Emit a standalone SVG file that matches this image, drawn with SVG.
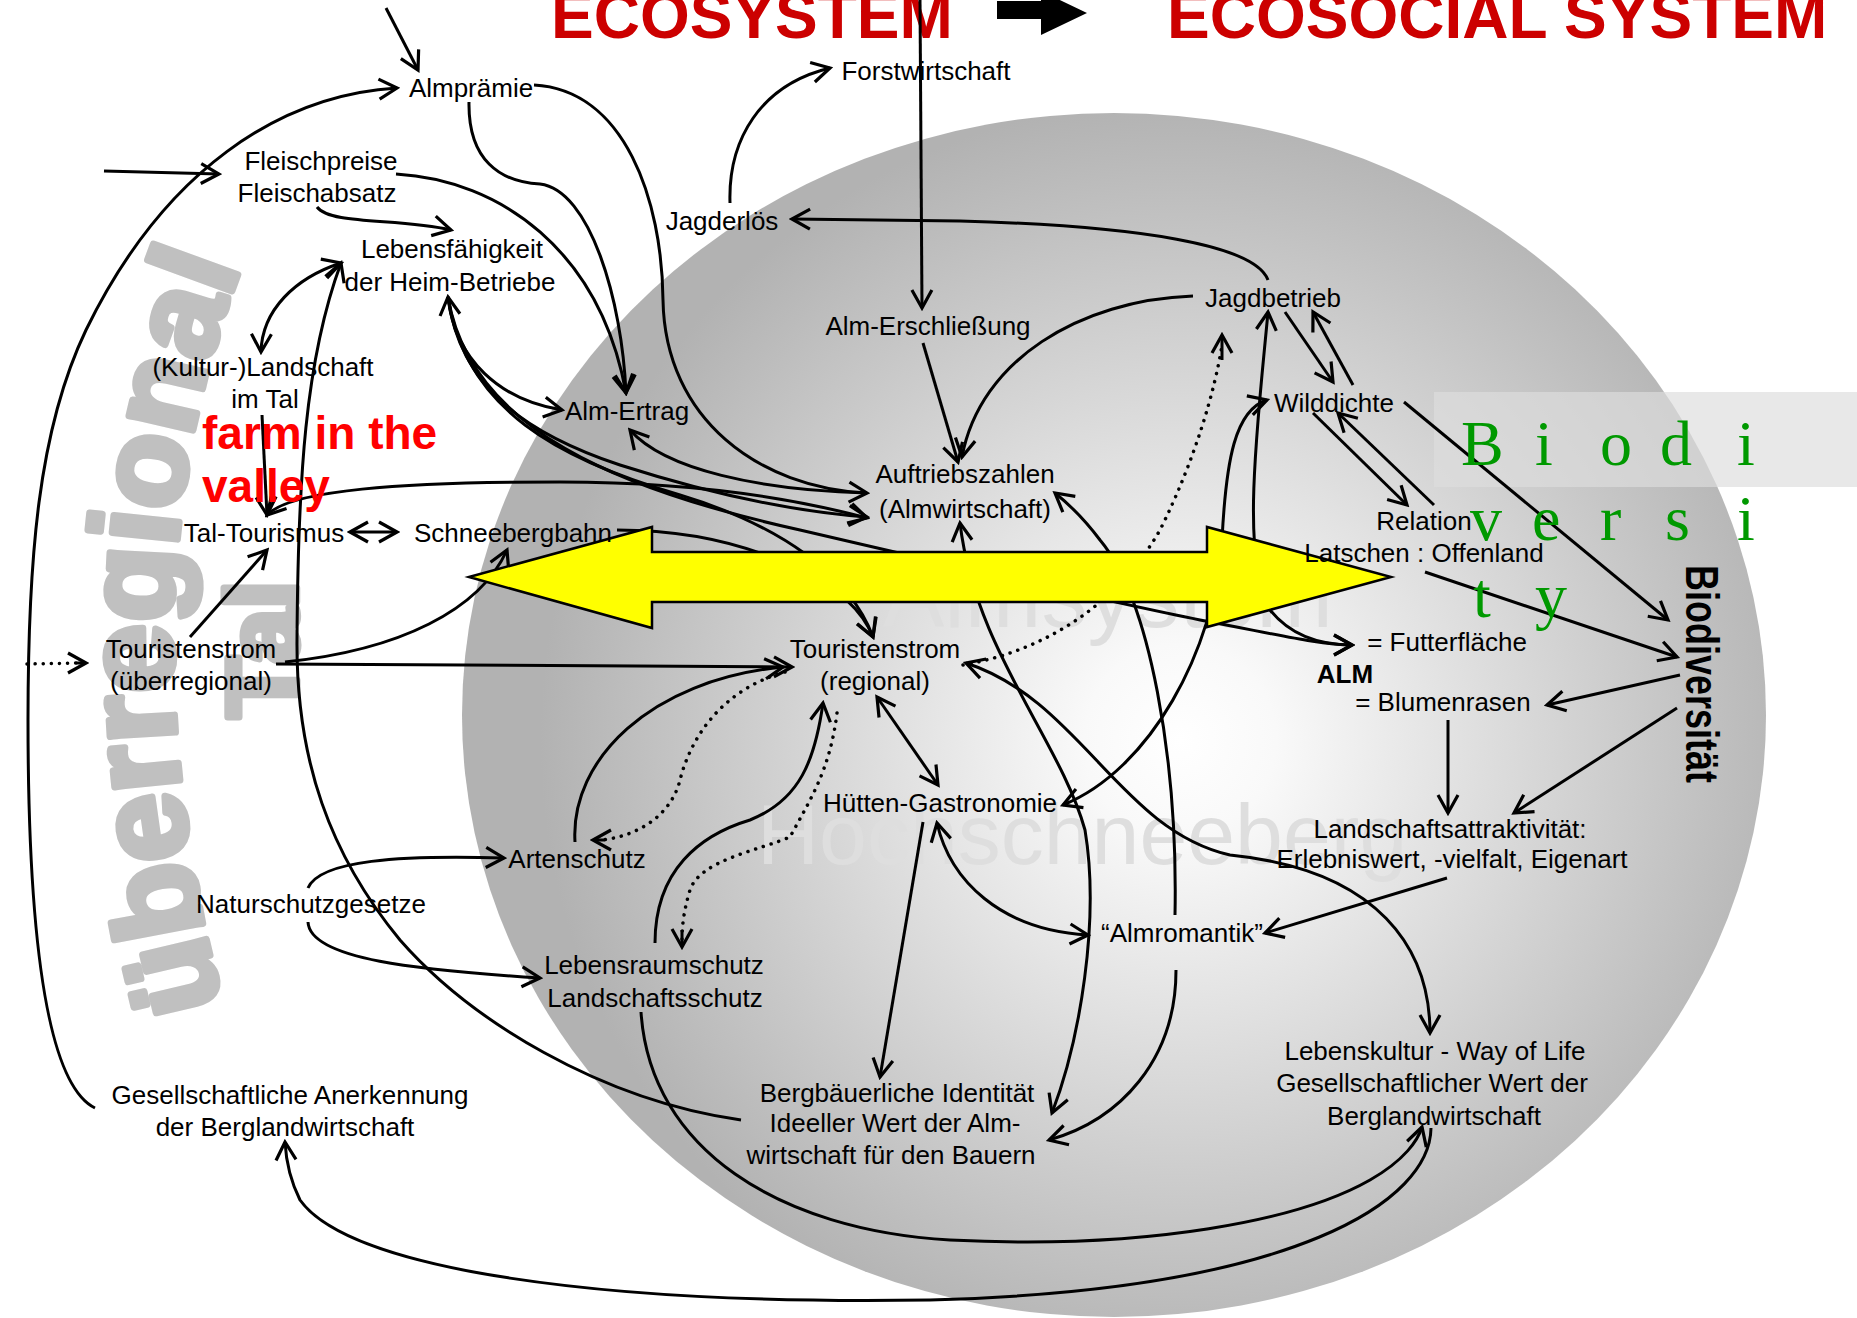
<svg xmlns="http://www.w3.org/2000/svg" width="1857" height="1318" viewBox="0 0 1857 1318">
<defs>
<radialGradient id="bg" gradientUnits="userSpaceOnUse" cx="1180" cy="740" r="640">
<stop offset="0" stop-color="#ffffff"/>
<stop offset="0.15" stop-color="#f9f9f9"/>
<stop offset="1" stop-color="#b2b2b2"/>
</radialGradient>
<marker id="ah" viewBox="0 0 24 24" refX="21" refY="12" markerWidth="24" markerHeight="24" markerUnits="userSpaceOnUse" orient="auto-start-reverse">
<path d="M3,2 L21,12 L3,22" fill="none" stroke="#000" stroke-width="3.2" stroke-linejoin="miter"/>
</marker>
<path id="wp" d="M 222,1005 C 170,800 130,520 258,225"/>
</defs>
<style>
.t{font-family:"Liberation Sans",Arial,sans-serif;font-size:26px;fill:#000;text-anchor:middle}
.c{fill:none;stroke:#000;stroke-width:3}
.d{fill:none;stroke:#000;stroke-width:3.5;stroke-dasharray:0.1 8;stroke-linecap:round}
.e{marker-end:url(#ah)}
.b{marker-start:url(#ah);marker-end:url(#ah)}
.wm{font-family:"Liberation Sans",Arial,sans-serif;font-weight:bold;fill:#c0c0c0;stroke:#c0c0c0;stroke-width:7;stroke-linejoin:round}
.g{font-family:"Liberation Serif","Times New Roman",serif;font-size:64px;fill:#009900}
.ttl{font-family:"Liberation Sans",Arial,sans-serif;font-weight:bold;font-size:64px;fill:#cc0000}
</style>
<rect width="1857" height="1318" fill="#ffffff"/>
<ellipse cx="1114" cy="715" rx="652" ry="602" fill="url(#bg)"/>
<g id="watermarks">
<text class="wm" font-size="124"><textPath href="#wp">überregional</textPath></text>
<text class="wm" font-size="100" transform="translate(297,718) rotate(-90)">Tal</text>
<text x="883" y="627" style="font-family:'Liberation Sans',Arial,sans-serif;font-size:92px;fill:#dedede">Almsystem</text>
<text x="757" y="864" style="font-family:'Liberation Sans',Arial,sans-serif;font-size:86px;fill:#dedede">Hochschneeberg</text>
</g>
<rect x="1434" y="392" width="423" height="95" fill="#dddddd" opacity="0.68"/>
<g id="title">
<text class="ttl" x="551" y="38">ECOSYSTEM</text>
<polygon points="997,1 1041,1 1041,-9 1087,13 1041,35 1041,19 997,19" fill="#000"/>
<text class="ttl" x="1167" y="38">ECOSOCIAL SYSTEM</text>
</g>
<g id="connectors">
<path class="c e" d="M 386,8 L 418,70"/>
<path class="c e" d="M 95,1108 C 38,1080 28,880 28,720 C 28,560 38,430 86,330 C 164,170 280,95 397,88"/>
<path class="c e" d="M 104,171 L 219,174"/>
<path class="c e" d="M 396,174 C 500,180 600,250 626,393"/>
<path class="c e" d="M 469,102 C 468,160 500,182 540,184 C 590,190 622,300 626,393"/>
<path class="c e" d="M 534,85 C 625,90 662,200 663,300 C 665,420 760,488 867,493"/>
<path class="c e" d="M 867,493 C 760,490 665,470 630,430"/>
<path class="c e" d="M 317,207 C 330,225 400,218 451,230"/>
<path class="c b" d="M 341,263 C 295,278 262,310 261,352"/>
<path class="c e" d="M 741,1120 C 600,1100 470,1020 400,940 C 330,855 296,760 297,640 C 298,480 305,360 341,263"/>
<path class="c b" d="M 448,297 C 455,360 500,400 562,410"/>
<path class="c e" d="M 448,297 C 460,390 530,435 620,465 C 720,497 800,512 867,517"/>
<path class="c e" d="M 448,297 C 465,410 560,460 680,495 C 780,525 850,575 873,637"/>
<path class="c e" d="M 448,297 C 470,430 620,490 800,530 C 950,565 1100,600 1200,620 C 1280,635 1320,645 1352,645"/>
<path class="c b" d="M 267,515 C 290,490 400,482 560,482 C 700,482 800,500 867,518"/>
<path class="c e" d="M 262,415 L 267,515"/>
<path class="c e" d="M 1268,280 C 1255,245 1140,226 960,221 L 792,219"/>
<path class="c e" d="M 730,203 C 728,140 760,85 830,68"/>
<path class="c e" d="M 920,0 L 922,308"/>
<path class="c e" d="M 923,343 L 958,462"/>
<path class="c e" d="M 1193,296 C 1080,300 980,360 962,457"/>
<path class="d" d="M 963,665 C 1050,650 1120,600 1160,530 C 1195,460 1215,390 1222,345"/>
<path class="c e" d="M 1222,360 L 1222,335"/>
<path class="c e" d="M 1285,312 L 1333,382"/>
<path class="c e" d="M 1353,385 L 1313,312"/>
<path class="c b" d="M 1063,805 C 1150,770 1215,650 1222,540 C 1226,460 1235,410 1267,400"/>
<path class="c b" d="M 1268,312 C 1258,420 1240,560 1270,610 C 1290,635 1320,645 1352,645"/>
<path class="c e" d="M 1313,413 L 1407,505"/>
<path class="c e" d="M 1434,505 L 1338,413"/>
<path class="c e" d="M 1404,402 L 1668,620"/>
<path class="c e" d="M 1425,572 L 1677,657"/>
<path class="c e" d="M 1680,675 L 1547,705"/>
<path class="c e" d="M 1677,708 L 1514,813"/>
<path class="c e" d="M 1448,720 L 1448,813"/>
<path class="c e" d="M 1447,878 L 1265,933"/>
<path class="c e" d="M 1175,915 C 1178,760 1150,600 1100,540 C 1085,520 1070,505 1055,493"/>
<path class="c b" d="M 960,523 C 975,650 1060,740 1085,830 C 1100,920 1080,1040 1052,1113"/>
<path class="c e" d="M 1176,970 C 1176,1060 1120,1120 1049,1140"/>
<path class="c b" d="M 937,823 C 950,880 1000,930 1088,935"/>
<path class="c e" d="M 923,822 L 880,1077"/>
<path class="c b" d="M 877,697 L 938,785"/>
<path class="c b" d="M 966,663 C 1080,700 1120,830 1230,855 C 1380,870 1430,950 1430,1033"/>
<path class="c e" d="M 617,530 C 700,530 760,550 800,570 C 840,590 862,610 873,637"/>
<path class="c e" d="M 575,842 C 570,760 650,680 783,667"/>
<path class="d" d="M 785,672 C 720,690 690,740 680,780 C 670,820 630,838 600,840"/>
<path class="c e" d="M 605,840 L 593,840"/>
<path class="c e" d="M 655,943 C 655,870 700,835 750,820 C 800,800 815,760 823,703"/>
<path class="d" d="M 837,713 C 830,770 810,800 790,837 C 760,850 700,860 690,890 C 684,910 682,925 682,940"/>
<path class="c e" d="M 682,930 L 682,947"/>
<path class="c e" d="M 308,888 C 320,860 400,855 504,858"/>
<path class="c e" d="M 308,922 C 310,960 420,970 540,978"/>
<path class="c e" d="M 276,664 L 792,667"/>
<path class="c e" d="M 285,662 C 400,650 480,610 507,550"/>
<path class="c e" d="M 190,637 L 267,550"/>
<path class="d" d="M 27,664 L 80,663"/>
<path class="c e" d="M 76,663 L 86,663"/>
<path class="c b" d="M 350,532 L 397,532"/>
<path class="c e" d="M 641,1012 C 650,1150 780,1230 950,1240 C 1150,1250 1300,1220 1370,1180 C 1405,1160 1418,1140 1422,1127"/>
<path class="c e" d="M 1431,1128 C 1430,1200 1300,1290 930,1300 C 600,1305 350,1270 300,1200 C 290,1180 286,1160 285,1142"/>
</g>
<polygon id="yellow-arrow" points="469,577 652,527 652,552 1207,552 1207,527 1391,577 1207,627 1207,602 652,602 652,628" fill="#ffff00" stroke="#000" stroke-width="2.5"/>
<g id="biodiversity-green">
<text class="g"><tspan x="1461" y="465">B</tspan><tspan x="1535" y="465">i</tspan><tspan x="1600" y="465">o</tspan><tspan x="1660" y="465">d</tspan><tspan x="1737" y="465">i</tspan></text>
<text class="g"><tspan x="1470" y="540">v</tspan><tspan x="1532" y="540">e</tspan><tspan x="1600" y="540">r</tspan><tspan x="1665" y="540">s</tspan><tspan x="1737" y="540">i</tspan></text>
<text class="g"><tspan x="1473" y="617">t</tspan><tspan x="1535" y="617">y</tspan></text>
</g>
<g id="biodiversitaet"><text transform="translate(1686,565) rotate(90)" style="font-family:'Liberation Sans',Arial,sans-serif;font-weight:bold;font-size:46px" textLength="218" lengthAdjust="spacingAndGlyphs">Biodiversität</text></g>
<g id="farm-label"><text style="font-family:'Liberation Sans',Arial,sans-serif;font-weight:bold;font-size:46px;fill:#ff0000"><tspan x="202" y="449">farm in the</tspan><tspan x="202" y="502">valley</tspan></text></g>
<g id="n-almpraemie"><text class="t" x="471" y="97">Almprämie</text></g>
<g id="n-fleisch"><text class="t" x="321" y="170">Fleischpreise</text><text class="t" x="317" y="202">Fleischabsatz</text></g>
<g id="n-lebensfaehigkeit"><text class="t" x="452" y="258">Lebensfähigkeit</text><text class="t" x="450" y="291">der Heim-Betriebe</text></g>
<g id="n-kulturlandschaft"><text class="t" x="263" y="376">(Kultur-)Landschaft</text><text class="t" x="265" y="408">im Tal</text></g>
<g id="n-almertrag"><text class="t" x="627" y="420">Alm-Ertrag</text></g>
<g id="n-jagderloes"><text class="t" x="722" y="230">Jagderlös</text></g>
<g id="n-forst"><text class="t" x="926" y="80">Forstwirtschaft</text></g>
<g id="n-almerschliessung"><text class="t" x="928" y="335">Alm-Erschließung</text></g>
<g id="n-jagdbetrieb"><text class="t" x="1273" y="307">Jagdbetrieb</text></g>
<g id="n-wilddichte"><text class="t" x="1334" y="412">Wilddichte</text></g>
<g id="n-auftrieb"><text class="t" x="965" y="483">Auftriebszahlen</text><text class="t" x="965" y="518">(Almwirtschaft)</text></g>
<g id="n-taltourismus"><text class="t" x="264" y="542">Tal-Tourismus</text></g>
<g id="n-schneebergbahn"><text class="t" x="513" y="542">Schneebergbahn</text></g>
<g id="n-touristen-ueber"><text class="t" x="191" y="658">Touristenstrom</text><text class="t" x="191" y="690">(überregional)</text></g>
<g id="n-touristen-reg"><text class="t" x="875" y="658">Touristenstrom</text><text class="t" x="875" y="690">(regional)</text></g>
<g id="n-relation"><text class="t" x="1424" y="530">Relation</text><text class="t" x="1424" y="562">Latschen : Offenland</text></g>
<g id="n-alm"><text class="t" x="1447" y="651">= Futterfläche</text><text class="t" x="1345" y="683" font-weight="bold">ALM</text><text class="t" x="1443" y="711">= Blumenrasen</text></g>
<g id="n-artenschutz"><text class="t" x="577" y="868">Artenschutz</text></g>
<g id="n-huetten"><text class="t" x="940" y="812">Hütten-Gastronomie</text></g>
<g id="n-landschaftsattraktivitaet"><text class="t" x="1450" y="838">Landschaftsattraktivität:</text><text class="t" x="1452" y="868">Erlebniswert, -vielfalt, Eigenart</text></g>
<g id="n-naturschutz"><text class="t" x="311" y="913">Naturschutzgesetze</text></g>
<g id="n-almromantik"><text class="t" x="1182" y="942">“Almromantik”</text></g>
<g id="n-lebensraum"><text class="t" x="654" y="974">Lebensraumschutz</text><text class="t" x="655" y="1007">Landschaftsschutz</text></g>
<g id="n-lebenskultur"><text class="t" x="1435" y="1060">Lebenskultur - Way of Life</text><text class="t" x="1432" y="1092">Gesellschaftlicher Wert der</text><text class="t" x="1434" y="1125">Berglandwirtschaft</text></g>
<g id="n-gesellschaft"><text class="t" x="290" y="1104">Gesellschaftliche Anerkennung</text><text class="t" x="285" y="1136">der Berglandwirtschaft</text></g>
<g id="n-bergbaeuerlich"><text class="t" x="897" y="1102">Bergbäuerliche Identität</text><text class="t" x="895" y="1132">Ideeller Wert der Alm-</text><text class="t" x="891" y="1164">wirtschaft für den Bauern</text></g>
</svg>
